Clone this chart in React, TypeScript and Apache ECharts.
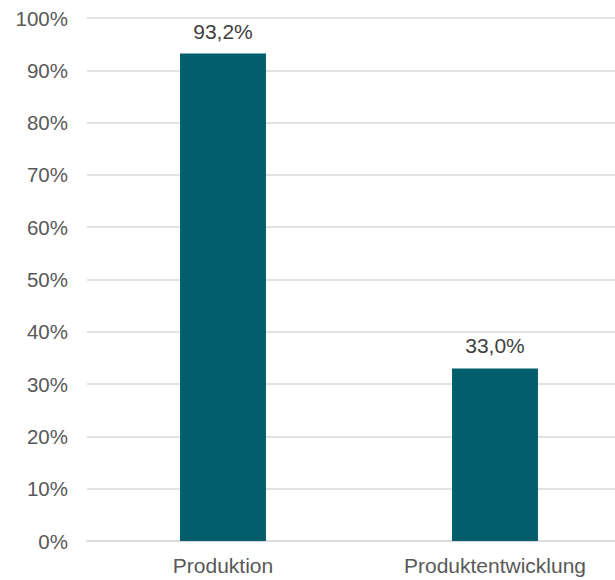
import React, { useEffect, useRef } from "react";
import * as echarts from "echarts";

const categories = ["Produktion", "Produktentwicklung"];
const values = [93.2, 33.0];
const yTicks = [0, 10, 20, 30, 40, 50, 60, 70, 80, 90, 100];

export default function App() {
  const ref = useRef<HTMLDivElement>(null);
  useEffect(() => {
    const chart = echarts.init(ref.current!, null, { renderer: "svg" });
    chart.setOption({
      animation: false,
      grid: { left: 87, top: 18, width: 544, bottom: 39, containLabel: false },
      xAxis: {
        type: "category",
        data: categories,
        axisLine: { show: true, lineStyle: { color: "#d9d9d9", width: 1.5 } },
        axisTick: { show: false },
        axisLabel: { color: "#595959", fontSize: 21, fontFamily: "Liberation Sans, Arial", margin: 14 },
      },
      yAxis: {
        type: "value",
        min: yTicks[0],
        max: yTicks[yTicks.length - 1],
        interval: 10,
        axisLine: { show: false },
        axisTick: { show: false },
        splitLine: { lineStyle: { color: "#d9d9d9", width: 1.5 } },
        axisLabel: {
          color: "#595959",
          fontSize: 20.5,
          fontFamily: "Liberation Sans, Arial",
          margin: 19,
          formatter: (v: number) => v + "%",
        },
      },
      series: [
        {
          type: "bar",
          data: values,
          barWidth: "31.6%",
          itemStyle: { color: "#005f6b" },
          label: {
            show: true,
            position: "top",
            distance: 12,
            color: "#404040",
            fontSize: 21,
            fontFamily: "Liberation Sans, Arial",
            formatter: (p: any) => p.value.toFixed(1).replace(".", ",") + "%",
          },
        },
      ],
    });
    return () => chart.dispose();
  }, []);
  return (
    <div style={{ position: "fixed", left: 0, top: 0, width: 615, height: 580, overflow: "hidden", background: "#fff" }}>
      <div ref={ref} style={{ width: 660, height: 580 }} />
    </div>
  );
}
